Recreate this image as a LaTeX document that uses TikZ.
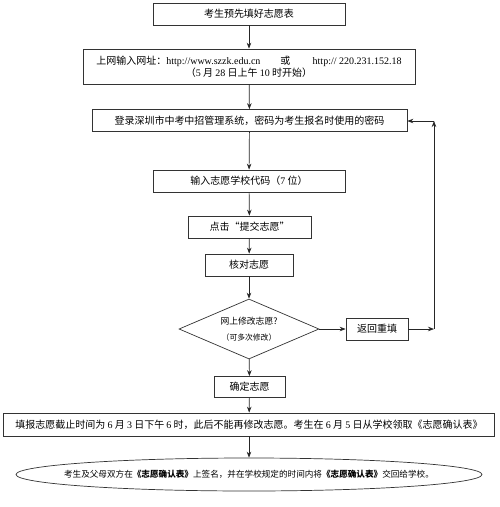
\documentclass[tikz,border=0pt]{standalone}
\usepackage{fontspec}
\setmainfont{Noto Sans CJK SC}
\newfontfamily\tm{Liberation Serif}
\usetikzlibrary{arrows.meta,shapes.geometric}
\begin{document}
\begin{tikzpicture}[x=1pt,y=-1pt,
  every node/.style={font=\fontsize{10}{13}\selectfont, inner sep=0pt},
  stepbox/.style={draw=black!80, line width=0.7pt, rectangle, align=center},
  conn/.style={draw=black!85, line width=0.7pt, -{Stealth[length=6pt,width=4.5pt]}},
  seg/.style={draw=black!85, line width=0.7pt}]
\useasboundingbox (0,0) rectangle (499,507);
\fill[white] (0,0) rectangle (499,507);
\node[stepbox, minimum width=192pt, minimum height=22pt] (b1) at (249,14) {考生预先填好志愿表};
\node[stepbox, minimum width=332pt, minimum height=35pt] (b2) at (249,66.5)
  {上网输入网址：{\tm http://www.szzk.edu.cn}\qquad 或 \qquad{\tm http:// 220.231.152.18}\\[-1pt]
   （{\tm 5} 月 {\tm 28} 日上午 {\tm 10} 时开始）};
\node[stepbox, minimum width=315pt, minimum height=22pt] (b3) at (249.5,120.5) {登录深圳市中考中招管理系统，密码为考生报名时使用的密码};
\node[stepbox, minimum width=192pt, minimum height=22pt] (b4) at (249,181) {输入志愿学校代码（{\tm 7} 位）};
\node[stepbox, minimum width=123pt, minimum height=22pt] (b5) at (249.5,227) {点击“提交志愿”};
\node[stepbox, minimum width=88pt, minimum height=22pt] (b6) at (249,265) {核对志愿};
\node[draw=black!80, line width=0.7pt, diamond, aspect=2.33, minimum width=140pt, minimum height=60pt, align=center] (d) at (249,329)
  {{\fontsize{8.8}{10}\selectfont 网上修改志愿?}\\[3pt]{\fontsize{7.8}{9}\selectfont （可多次修改）}};
\node[stepbox, minimum width=62pt, minimum height=22pt] (back) at (377,329) {返回重填};
\node[stepbox, minimum width=71pt, minimum height=21pt] (ok) at (249.5,387) {确定志愿};
\node[stepbox, minimum width=491pt, minimum height=23pt] (wide) at (249,424.5)
  {填报志愿截止时间为 {\tm 6} 月 {\tm 3} 日下午 {\tm 6} 时，此后不能再修改志愿。考生在 {\tm 6} 月 {\tm 5} 日从学校领取《志愿确认表》};
\node[draw=black!80, line width=0.7pt, ellipse, minimum width=466pt, minimum height=33pt] (end) at (249,474.5) {};
\node[font=\fontsize{8.6}{10}\selectfont] (endtext) at (end.center)
  {考生及父母双方在\textbf{《志愿确认表》}上签名，并在学校规定的时间内将\textbf{《志愿确认表》}交回给学校。};
\coordinate (c1) at (434,329);
\coordinate (c2) at (434,121);
\draw[conn] (b1) -- (b2);
\draw[conn] (b2) -- (b3);
\draw[conn] (b3) -- (b4);
\draw[conn] (b4) -- (b5);
\draw[conn] (b5) -- (b6);
\draw[conn] (b6) -- (d);
\draw[conn] (d) -- (back);
\draw[conn] (back) -- (c1);
\draw[conn] (c1) -- (c2);
\draw[conn] (c2) -- (b3.east |- c2);
\draw[conn] (d) -- (ok);
\draw[conn] (ok) -- (wide);
\draw[conn] (wide) -- (end);
\end{tikzpicture}
\end{document}
